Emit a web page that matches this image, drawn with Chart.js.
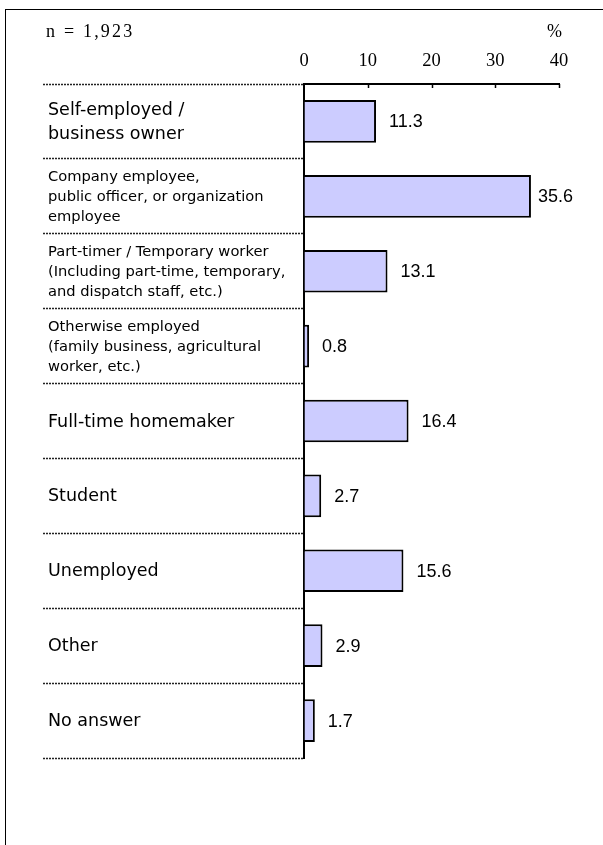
<!DOCTYPE html>
<html>
<head>
<meta charset="utf-8">
<script src="https://cdn.jsdelivr.net/npm/chart.js@4"></script>
<style>
  body { margin: 0; background: #fff; }
  #wrap { position: relative; width: 603px; height: 845px; overflow: hidden; }
  #frame { position: absolute; left: 5px; top: 9px; right: -2px; bottom: -2px; border-left: 1px solid #000; border-top: 1px solid #000; }
  canvas { position: absolute; left: 0; top: 0; }
</style>
</head>
<body>
<div id="wrap">
  <div id="frame"></div>
  <canvas id="occupationChart" width="603" height="845"></canvas>
</div>
<script>
const categories = [
  ["Self-employed /", "business owner"],
  ["Company employee,", "public officer, or organization", "employee"],
  ["Part-timer / Temporary worker", "(Including part-time, temporary,", "and dispatch staff, etc.)"],
  ["Otherwise employed", "(family business, agricultural", "worker, etc.)"],
  "Full-time homemaker",
  "Student",
  "Unemployed",
  "Other",
  "No answer",
];
const values = [11.3, 35.6, 13.1, 0.8, 16.4, 2.7, 15.6, 2.9, 1.7];
const tickValues = [0, 10, 20, 30, 40];
const sampleNote = "n = 1,923";
const unitLabel = "%";

const sansFont = "'DejaVu Sans', Arial, sans-serif";
const valueFont = "'Liberation Sans', Arial, sans-serif";
const serifFont = "'Liberation Serif', 'DejaVu Serif', serif";

// value labels, tick marks under the top axis, n= and % text
const extrasPlugin = {
  id: "extras",
  afterDraw(chart) {
    const ctx = chart.ctx;
    const xScale = chart.scales.x;
    const area = chart.chartArea;
    ctx.save();

    ctx.strokeStyle = "#000";
    ctx.lineWidth = 1.5;
    tickValues.forEach((v) => {
      if (v === 0) return;
      const px = Math.round(xScale.getPixelForValue(v)) + 0.5;
      ctx.beginPath();
      ctx.moveTo(px, area.top);
      ctx.lineTo(px, area.top + 4);
      ctx.stroke();
    });

    ctx.fillStyle = "#000";
    ctx.font = "18px " + valueFont;
    ctx.textBaseline = "middle";
    ctx.textAlign = "left";
    const meta = chart.getDatasetMeta(0);
    meta.data.forEach((bar, i) => {
      const txt = values[i].toFixed(1);
      const w = ctx.measureText(txt).width;
      const x = Math.min(bar.x + 13, 573 - w);
      ctx.fillText(txt, x, bar.y + 1);
    });

    ctx.font = "18px " + serifFont;
    ctx.letterSpacing = "2.2px";
    ctx.fillText(sampleNote, 46, 32);
    ctx.letterSpacing = "0px";
    ctx.textAlign = "right";
    ctx.fillText(unitLabel, 562, 32);
    ctx.restore();
  },
};

const ctx = document.getElementById("occupationChart").getContext("2d");
new Chart(ctx, {
  type: "bar",
  data: {
    labels: categories,
    datasets: [
      {
        data: values,
        backgroundColor: "#ccccff",
        borderColor: "#000",
        borderWidth: 2,
        borderSkipped: "left",
        barPercentage: 0.57,
        categoryPercentage: 1,
      },
    ],
  },
  options: {
    indexAxis: "y",
    responsive: false,
    animation: false,
    layout: { padding: { left: 48, right: 44, top: 0, bottom: 87 } },
    plugins: { legend: { display: false }, tooltip: { enabled: false } },
    scales: {
      x: {
        position: "top",
        min: 0,
        max: 40,
        afterBuildTicks: (scale) => {
          scale.ticks = tickValues.map((v) => ({ value: v }));
        },
        afterFit: (scale) => {
          scale.height = 84;
        },
        grid: { display: true, drawOnChartArea: false, drawTicks: false },
        border: { display: true, color: "#000", width: 2 },
        ticks: {
          padding: 12,
          color: "#000",
          maxRotation: 0,
          font: { family: serifFont, size: 18.5 },
        },
      },
      y: {
        afterFit: (scale) => {
          scale.width = 256;
        },
        grid: {
          display: true,
          offset: true,
          drawOnChartArea: false,
          drawTicks: true,
          tickLength: 261,
          tickColor: "#222",
          tickWidth: 1.5,
          tickBorderDash: [2, 1],
        },
        border: { display: true, color: "#000", width: 2 },
        ticks: {
          crossAlign: "far",
          padding: 0,
          labelOffset: 1,
          color: "#000",
          autoSkip: false,
          font: (c) => {
            const lbl = categories[c.index];
            if (Array.isArray(lbl) && lbl.length > 2) {
              return { family: sansFont, size: 14.7, lineHeight: 1.36 };
            }
            return { family: sansFont, size: 17.5, lineHeight: 1.35 };
          },
        },
      },
    },
  },
  plugins: [extrasPlugin],
});
</script>
</body>
</html>
